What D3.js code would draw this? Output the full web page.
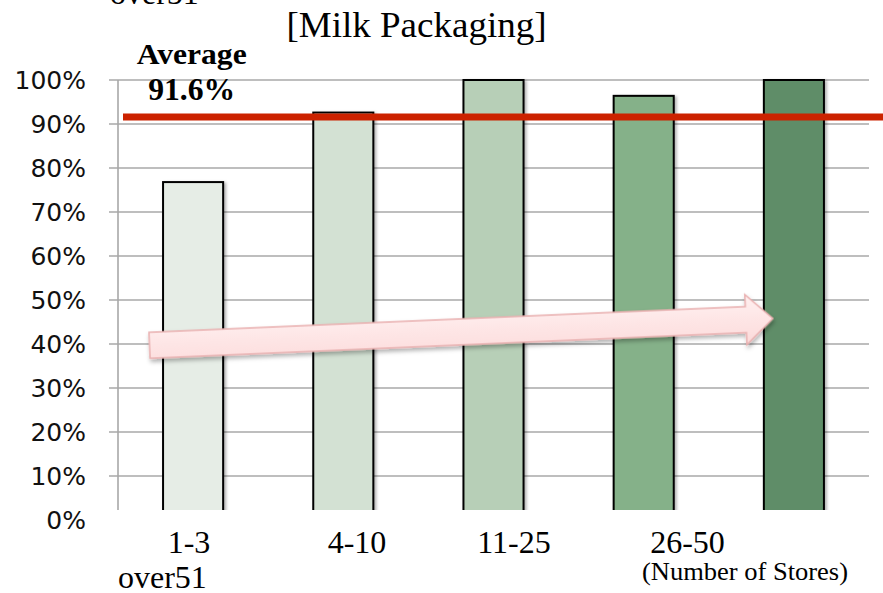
<!DOCTYPE html>
<html>
<head>
<meta charset="utf-8">
<script src="https://cdn.jsdelivr.net/npm/d3@7"></script>
<style>
  body { margin: 0; background: #fff; }
  svg { display: block; }
</style>
</head>
<body>
<svg id="chart" width="883" height="593"></svg>
<script>
// ---- data ----
const categories = ["1-3", "4-10", "11-25", "26-50", "over51"];
const shares = [76.8, 92.6, 100, 96.4, 100];          // percent
const averageShare = 91.6;                              // percent
const yTicks = [0, 10, 20, 30, 40, 50, 60, 70, 80, 90, 100];
const barColors = ["#e6ede6", "#d3e1d3", "#b7cfb7", "#85b189", "#5f8d67"];
const titleText = "[Milk Packaging]";
const unitNote = "(Number of Stores)";
// upward trend arrow, in (category position, percent) units
const trendFrom = { pos: -0.29, value: 39.7 };
const trendTo = { pos: 3.86, value: 45.8 };

// ---- layout ----
const W = 883, H = 593;
const plot = { left: 118, right: 869, top: 80, bottom: 520, clipBottom: 510 };

const svg = d3.select("#chart");
const defs = svg.append("defs");

defs.append("clipPath").attr("id", "plotClip")
  .append("rect").attr("x", 0).attr("y", 0).attr("width", W).attr("height", plot.clipBottom);

const barShadow = defs.append("filter").attr("id", "barShadow")
  .attr("x", "-20%").attr("y", "-5%").attr("width", "150%").attr("height", "115%");
barShadow.append("feDropShadow").attr("dx", 2).attr("dy", 1.5).attr("stdDeviation", 1.5)
  .attr("flood-color", "#000").attr("flood-opacity", 0.3);

const arrowShadow = defs.append("filter").attr("id", "arrowShadow")
  .attr("x", "-5%").attr("y", "-50%").attr("width", "110%").attr("height", "220%");
arrowShadow.append("feDropShadow").attr("dx", 1).attr("dy", 3).attr("stdDeviation", 2)
  .attr("flood-color", "#000").attr("flood-opacity", 0.3);

const arrowGrad = defs.append("linearGradient").attr("id", "arrowFill")
  .attr("x1", 0).attr("y1", 0).attr("x2", 0).attr("y2", 1);
arrowGrad.append("stop").attr("offset", "0%").attr("stop-color", "#fff0f0");
arrowGrad.append("stop").attr("offset", "100%").attr("stop-color", "#fcdada");

// ---- scales ----
const x = d3.scaleBand()
  .domain(categories)
  .range([plot.left, plot.right])
  .paddingInner(0.6)
  .paddingOuter(0.3);

const y = d3.scaleLinear().domain([0, 100]).range([plot.bottom, plot.top]);

// continuous position across the category axis (0 = centre of first band)
const xPos = p => x(categories[0]) + x.bandwidth() / 2 + p * x.step();

// ---- grid, axis line, tick marks (clipped at the bottom) ----
const plotLayer = svg.append("g").attr("clip-path", "url(#plotClip)");

plotLayer.append("g")
  .selectAll("line")
  .data(yTicks)
  .join("line")
  .attr("x1", plot.left - 9)
  .attr("x2", plot.right)
  .attr("y1", d => y(d))
  .attr("y2", d => y(d))
  .attr("stroke", "#a8a8a8")
  .attr("stroke-width", 1.6);

plotLayer.append("line")
  .attr("x1", plot.left).attr("x2", plot.left)
  .attr("y1", y(100)).attr("y2", plot.bottom)
  .attr("stroke", "#a8a8a8")
  .attr("stroke-width", 1.6);

// ---- average line ----
svg.append("line")
  .attr("x1", plot.left + 5)
  .attr("x2", W)
  .attr("y1", y(averageShare))
  .attr("y2", y(averageShare))
  .attr("stroke", "#cc2200")
  .attr("stroke-width", 7);

// ---- bars ----
plotLayer.append("g")
  .selectAll("rect")
  .data(categories.map((c, i) => ({ c, v: shares[i], color: barColors[i] })))
  .join("rect")
  .attr("x", d => x(d.c))
  .attr("y", d => y(d.v))
  .attr("width", x.bandwidth())
  .attr("height", d => plot.bottom - y(d.v))
  .attr("fill", d => d.color)
  .attr("stroke", "#000")
  .attr("stroke-width", 2)
  .attr("filter", "url(#barShadow)");

// ---- trend arrow ----
{
  const x0 = xPos(trendFrom.pos), y0 = y(trendFrom.value);
  const x1 = xPos(trendTo.pos), y1 = y(trendTo.value);
  const len = Math.hypot(x1 - x0, y1 - y0);
  const ang = Math.atan2(y1 - y0, x1 - x0) * 180 / Math.PI;
  const shaft = 13, head = 25, headLen = 27;
  const path = d3.path();
  path.moveTo(0, -shaft);
  path.lineTo(len - headLen, -shaft);
  path.lineTo(len - headLen, -head);
  path.lineTo(len, 0);
  path.lineTo(len - headLen, head);
  path.lineTo(len - headLen, shaft);
  path.lineTo(0, shaft);
  path.closePath();
  svg.append("path")
    .attr("d", path.toString())
    .attr("transform", `translate(${x0},${y0}) rotate(${ang})`)
    .attr("fill", "url(#arrowFill)")
    .attr("stroke", "#e9b0b0")
    .attr("stroke-width", 1.5)
    .attr("stroke-linejoin", "miter")
    .attr("filter", "url(#arrowShadow)");
}

// ---- y tick labels ----
svg.append("g")
  .selectAll("text")
  .data(yTicks)
  .join("text")
  .attr("x", 86)
  .attr("y", d => y(d))
  .attr("dy", "0.36em")
  .attr("text-anchor", "end")
  .attr("font-family", "'DejaVu Sans', Verdana, sans-serif")
  .attr("font-size", 25)
  .attr("fill", "#111")
  .text(d => d + "%");

// ---- texts ----
const serif = "'Liberation Serif', 'Times New Roman', serif";

// wrapped remnant of the category line above the frame
svg.append("text")
  .attr("x", 110).attr("y", 4)
  .attr("font-family", serif).attr("font-size", 32)
  .text(categories[4]);

svg.append("text")
  .attr("x", 416.5).attr("y", 37)
  .attr("text-anchor", "middle")
  .attr("font-family", serif).attr("font-size", 36)
  .attr("textLength", 260).attr("lengthAdjust", "spacingAndGlyphs")
  .text(titleText);

svg.append("text")
  .attr("x", 191.7).attr("y", 64)
  .attr("text-anchor", "middle")
  .attr("font-family", serif).attr("font-size", 30).attr("font-weight", "bold")
  .attr("textLength", 110).attr("lengthAdjust", "spacingAndGlyphs")
  .text("Average");

svg.append("text")
  .attr("x", 191.7).attr("y", 100)
  .attr("text-anchor", "middle")
  .attr("font-family", serif).attr("font-size", 31).attr("font-weight", "bold")
  .attr("textLength", 87).attr("lengthAdjust", "spacingAndGlyphs")
  .text(averageShare.toFixed(1) + "%");

// category labels, set as one wrapped text line under the plot
const labelLine = [
  { text: categories[0], x: 189, y: 553, anchor: "middle" },
  { text: categories[1], x: 357, y: 553, anchor: "middle" },
  { text: categories[2], x: 514, y: 553, anchor: "middle" },
  { text: categories[3], x: 687.5, y: 553, anchor: "middle" },
  { text: categories[4], x: 118, y: 588, anchor: "start" }
];
svg.append("g")
  .selectAll("text")
  .data(labelLine)
  .join("text")
  .attr("x", d => d.x)
  .attr("y", d => d.y)
  .attr("text-anchor", d => d.anchor)
  .attr("font-family", serif)
  .attr("font-size", 32)
  .text(d => d.text);

svg.append("text")
  .attr("x", 642).attr("y", 580)
  .attr("font-family", serif).attr("font-size", 25)
  .attr("textLength", 206).attr("lengthAdjust", "spacingAndGlyphs")
  .text(unitNote);
</script>
</body>
</html>
